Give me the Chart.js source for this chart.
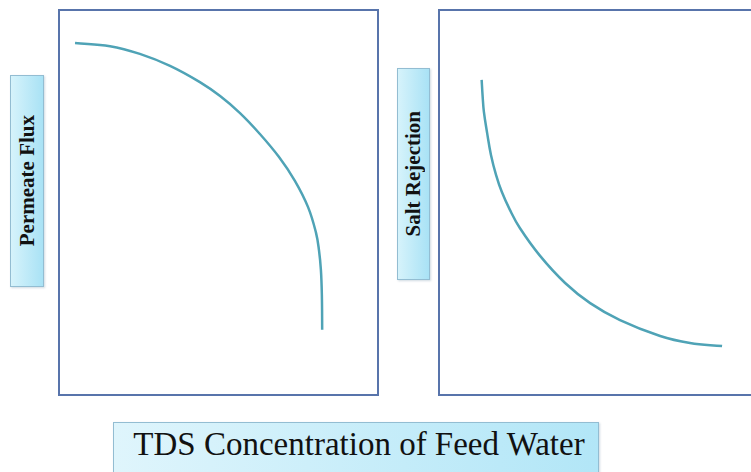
<!DOCTYPE html>
<html>
<head>
<meta charset="utf-8">
<script src="https://cdn.jsdelivr.net/npm/chart.js@4.4.1/dist/chart.umd.min.js"></script>
<style>
  html, body { margin: 0; padding: 0; background: #fff; overflow: hidden; }
  body { width: 751px; height: 472px; position: relative; }
  .panel { position: absolute; top: 9px; width: 321px; height: 387px; }
  .label {
    position: absolute;
    display: flex; align-items: center; justify-content: center;
    background: linear-gradient(to right, #d6f3fb, #a9e2f5);
    border: 1px solid #93bdd2;
    box-shadow: 1px 1px 2px rgba(120,150,170,0.35);
    font-family: "Liberation Serif", "Times New Roman", Times, "DejaVu Serif", "Noto Serif", serif;
    color: #111;
  }
  .label span { writing-mode: vertical-rl; transform: rotate(180deg); font-weight: bold; font-size: 21px; white-space: nowrap; }
  #title {
    left: 113px; top: 422px; width: 486px; height: 60px;
    background: linear-gradient(to right, #dff5fc, #b2e6f7);
    align-items: flex-start;
    font-size: 33px; padding: 3px 0 0 6px; box-sizing: border-box;
  }
</style>
</head>
<body>
<div class="panel" style="left:58px"><canvas id="flux"></canvas></div>
<div class="panel" style="left:438px"><canvas id="rejection"></canvas></div>
<div class="label" style="left:10px; top:75px; width:32px; height:210px"><span>Permeate Flux</span></div>
<div class="label" style="left:397px; top:68px; width:31px; height:210px"><span>Salt Rejection</span></div>
<div class="label" id="title">TDS Concentration of Feed Water</div>
<script>
// TDS (x, 0-100) vs response (y, 0-100)
const fluxTds = [5.3, 16.2, 25.5, 34.9, 44.2, 50.5, 56.7, 62.9, 68.8, 73.8, 77.9, 80.4, 81.3, 81.9, 82.2, 82.3];
const fluxValues = [91.2, 90.4, 88.4, 85.3, 81.1, 77.5, 73.1, 67.7, 61.8, 55.6, 48.8, 42.1, 37.7, 32.6, 26.1, 17.1];

const rejectionTds = [13.6, 13.9, 14.3, 15.3, 16.5, 18.1, 19.9, 22.4, 25.5, 31.8, 39.6, 47.4, 56.7, 69.2, 78.5, 88.5];
const rejectionValues = [81.7, 77.5, 73.4, 68.0, 62.3, 57.1, 52.7, 48.1, 43.4, 36.2, 29.2, 24.0, 19.6, 15.5, 13.7, 12.9];

const lineColor = "#4fa3b6";
const boxColor = "#5874ab";

// Draw a frame round the plot area
const frame = {
  id: "frame",
  beforeDraw(chart) {
    const { ctx, chartArea: a } = chart;
    ctx.save();
    ctx.strokeStyle = boxColor;
    ctx.lineWidth = 2;
    ctx.strokeRect(a.left + 1, a.top + 1, a.right - a.left - 2, a.bottom - a.top - 2);
    ctx.restore();
  },
};

const makeChart = (id, xs, ys) => {
  const data = xs.map((x, i) => ({ x, y: ys[i] }));
  return new Chart(document.getElementById(id), {
    type: "scatter",
    data: {
      datasets: [{
        data,
        showLine: true,
        borderColor: lineColor,
        borderWidth: 2.5,
        pointRadius: 0,
        tension: 0.4,
      }],
    },
    options: {
      responsive: true,
      maintainAspectRatio: false,
      animation: false,
      layout: { padding: 0 },
      plugins: { legend: { display: false }, tooltip: { enabled: false } },
      scales: {
        x: { display: false, min: 0, max: 100 },
        y: { display: false, min: 0, max: 100 },
      },
    },
    plugins: [frame],
  });
};

makeChart("flux", fluxTds, fluxValues);
makeChart("rejection", rejectionTds, rejectionValues);
</script>
</body>
</html>
